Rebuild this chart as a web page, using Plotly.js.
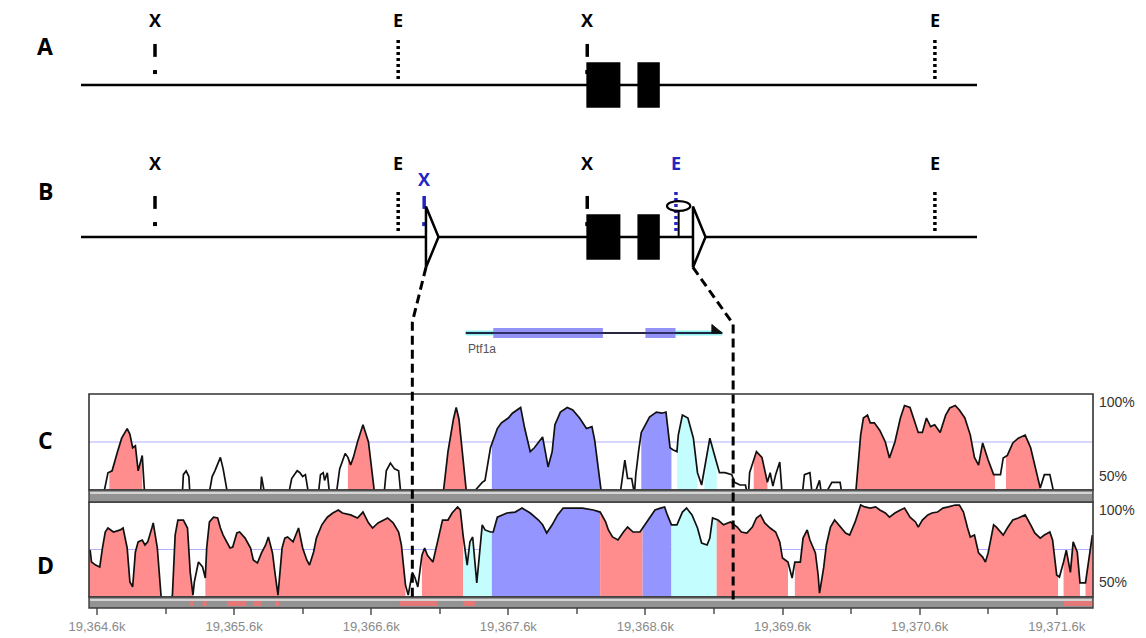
<!DOCTYPE html>
<html><head><meta charset="utf-8">
<script src="https://cdn.plot.ly/plotly-3.0.1.min.js"></script>
<style>html,body{margin:0;padding:0;background:#fff;}#chart{width:1146px;height:638px;}</style>
</head><body><div id="chart"></div>
<script>
// ================= DATA =================
const panelLabels = ['A', 'B', 'C', 'D'];

// Restriction maps (schematic units, 0-100 along the map line)
const mapASiteLabels = ['X', 'E', 'X', 'E'];
const mapASitePos = [8.26, 35.4, 56.5, 95.3];
const mapBSiteLabels = ['X', 'E', 'X', 'X', 'E', 'E'];
const mapBSitePos = [8.26, 35.4, 38.3, 56.5, 66.4, 95.3];
const mapBSiteNew = [false, false, true, false, true, false];
const exonStart = [56.4, 62.1];
const exonEnd = [60.2, 64.6];
const loxPos = [38.5, 68.3];
const frtPos = 66.7;

// Gene annotation (kb)
const geneName = 'Ptf1a';
const geneStart = 19367.29, geneEnd = 19369.16;
const cdsStart = [19367.49, 19368.60];
const cdsEnd = [19368.29, 19368.82];
const insertBounds = [19366.90, 19369.24];

// Repeat annotation marks in lower track bar (kb)
const repeatStart = [19365.28, 19365.37, 19365.55, 19365.74, 19365.90, 19366.81, 19367.27, 19371.65];
const repeatEnd   = [19365.30, 19365.40, 19365.69, 19365.80, 19365.93, 19367.08, 19367.36, 19371.86];

// Axis ticks
const majorTickVals = [19364.6, 19365.6, 19366.6, 19367.6, 19368.6, 19369.6, 19370.6, 19371.6];
const majorTickText = ['19,364.6k', '19,365.6k', '19,366.6k', '19,367.6k', '19,368.6k', '19,369.6k', '19,370.6k', '19,371.6k'];
const minorTickVals = [19365.1, 19366.1, 19367.1, 19368.1, 19369.1, 19370.1, 19371.1];
const pctLabels = ['100%', '50%'];
const pctVals = [100, 50];
const refLine = 75;

// Conservation profile C (position kb, identity %)
const cPos = [19364.55, 19364.64, 19364.68, 19364.71, 19364.75, 19364.78, 19364.82, 19364.84, 19364.86, 19364.88, 19364.90, 19364.93, 19364.95,
  19365.22, 19365.23, 19365.25, 19365.27, 19365.28,
  19365.41, 19365.44, 19365.46, 19365.50, 19365.52, 19365.56,
  19365.79, 19365.80, 19365.83,
  19365.99, 19366.02, 19366.06, 19366.08, 19366.10, 19366.12, 19366.15,
  19366.21, 19366.23, 19366.25, 19366.26, 19366.28, 19366.30,
  19366.34, 19366.37, 19366.41, 19366.43, 19366.45, 19366.47, 19366.50, 19366.54, 19366.58, 19366.60, 19366.63,
  19366.69, 19366.71, 19366.74, 19366.77, 19366.80, 19366.82,
  19367.12, 19367.16, 19367.20, 19367.22, 19367.24, 19367.27, 19367.30,
  19367.41, 19367.43, 19367.47, 19367.52, 19367.55, 19367.60, 19367.63, 19367.69, 19367.72, 19367.76, 19367.79, 19367.82, 19367.85, 19367.87, 19367.89, 19367.92, 19367.94, 19367.98, 19368.03, 19368.07, 19368.12, 19368.17, 19368.21, 19368.23, 19368.25, 19368.28,
  19368.41, 19368.45, 19368.47, 19368.50, 19368.52, 19368.53, 19368.55, 19368.57, 19368.63, 19368.68, 19368.72, 19368.75, 19368.78, 19368.80, 19368.83,
  19368.84, 19368.87, 19368.91, 19368.95, 19368.98, 19369.01, 19369.03, 19369.07, 19369.11, 19369.14, 19369.18, 19369.23, 19369.25, 19369.29, 19369.33, 19369.35,
  19369.36, 19369.41, 19369.45, 19369.49, 19369.51, 19369.53,
  19369.55, 19369.58, 19369.60, 19369.74, 19369.76, 19369.80, 19369.82, 19369.87, 19369.89, 19369.96, 19370.02, 19370.04,
  19370.13, 19370.17, 19370.19, 19370.22, 19370.24, 19370.27, 19370.31, 19370.35, 19370.38, 19370.42, 19370.46, 19370.49, 19370.53, 19370.55, 19370.59, 19370.62, 19370.65, 19370.68, 19370.71, 19370.75, 19370.79, 19370.82, 19370.86, 19370.89, 19370.93, 19370.97, 19371.00, 19371.03, 19371.06, 19371.10, 19371.14, 19371.19, 19371.21, 19371.24, 19371.28, 19371.32, 19371.37, 19371.41, 19371.44, 19371.48, 19371.51, 19371.55, 19371.59, 19371.86];
const cPct = [45, 45, 59, 60, 70, 77, 82, 79, 72, 73, 60, 68, 45,
  45, 58, 60, 57, 45,
  45, 57, 60, 67, 61, 45,
  45, 57, 45,
  45, 56, 60, 59, 57, 58, 45,
  45, 58, 59, 55, 59, 45,
  45, 61, 69, 67, 63, 67, 75, 84, 75, 63, 45,
  45, 60, 64, 61, 60, 45,
  45, 70, 87, 93, 87, 65, 45,
  54, 55, 72, 82, 85, 87.5, 90, 93, 82, 70, 72, 74.5, 77.6, 70, 62, 70, 84, 90.6, 93, 91.7, 87.5, 82, 83, 76, 64.6, 48,
  45, 65.6, 56, 56, 48, 58, 70, 80, 88, 90.6, 90, 90.6, 72, 71, 70,
  78.6, 89, 87.5, 77, 59, 52.6, 61.5, 77, 66.7, 59, 59, 58, 54, 52.6, 52.6, 45,
  59, 70, 67, 54, 59, 52,
  58, 64.6, 45, 45, 58, 59, 45, 55, 45, 54, 54, 45,
  45, 78.6, 87.5, 89, 85, 85, 81, 75, 66.7, 75, 87.5, 94, 93, 89, 80, 80, 87.5, 83, 84, 80, 89, 92.7, 94, 91.7, 87.5, 78.6, 67, 63, 74.5, 65.6, 58, 58, 66.7, 68, 74.5, 77, 78.6, 72, 63, 51, 58, 58, 45, 45];
const cRegionStart = [19364.69, 19366.43, 19367.12, 19367.48, 19368.57, 19368.83, 19369.03, 19369.39, 19370.13, 19371.23];
const cRegionEnd   = [19364.93, 19366.63, 19367.30, 19368.28, 19368.79, 19368.98, 19369.12, 19369.49, 19371.15, 19371.48];
const cRegionType  = ['cns', 'cns', 'cns', 'exon', 'exon', 'utr', 'utr', 'cns', 'cns', 'cns'];

// Conservation profile D
const dPos = [19364.55, 19364.56, 19364.59, 19364.62, 19364.64, 19364.66, 19364.68, 19364.72, 19364.77, 19364.79,
  19364.82, 19364.84, 19364.86, 19364.88, 19364.90, 19364.93, 19364.95, 19364.97, 19365.00, 19365.01,
  19365.04, 19365.06, 19365.07, 19365.13, 19365.15, 19365.17, 19365.19, 19365.23, 19365.26, 19365.28,
  19365.30, 19365.31, 19365.34, 19365.37, 19365.39, 19365.40, 19365.42, 19365.45, 19365.48, 19365.50,
  19365.52, 19365.57, 19365.59, 19365.62, 19365.64, 19365.68, 19365.72, 19365.74, 19365.77, 19365.80,
  19365.83, 19365.85, 19365.88, 19365.90, 19365.92, 19365.95, 19365.97, 19365.99, 19366.03, 19366.07,
  19366.10, 19366.13, 19366.15, 19366.18, 19366.20, 19366.24, 19366.28, 19366.32, 19366.36, 19366.39,
  19366.45, 19366.50, 19366.54, 19366.58, 19366.61, 19366.65, 19366.69, 19366.72, 19366.76, 19366.80,
  19366.82, 19366.85, 19366.87, 19366.90, 19366.92, 19366.94, 19366.97, 19366.99, 19367.01, 19367.05,
  19367.09, 19367.12, 19367.16, 19367.19, 19367.23, 19367.25, 19367.27, 19367.30, 19367.32, 19367.34,
  19367.37, 19367.39, 19367.41, 19367.43, 19367.47, 19367.49, 19367.52, 19367.59, 19367.65, 19367.70,
  19367.76, 19367.82, 19367.85, 19367.88, 19367.92, 19367.96, 19368.00, 19368.07, 19368.14, 19368.22,
  19368.27, 19368.31, 19368.33, 19368.36, 19368.40, 19368.44, 19368.47, 19368.51, 19368.56, 19368.58,
  19368.63, 19368.67, 19368.71, 19368.74, 19368.76, 19368.79, 19368.83, 19368.87, 19368.90, 19368.94,
  19368.98, 19369.01, 19369.05, 19369.07, 19369.09, 19369.13, 19369.17, 19369.22, 19369.27, 19369.30,
  19369.34, 19369.38, 19369.41, 19369.44, 19369.47, 19369.51, 19369.55, 19369.58, 19369.60, 19369.64,
  19369.67, 19369.69, 19369.73, 19369.75, 19369.78, 19369.80, 19369.84, 19369.86, 19369.87, 19369.90,
  19369.92, 19369.95, 19369.98, 19370.02, 19370.06, 19370.09, 19370.13, 19370.17, 19370.20, 19370.24,
  19370.28, 19370.31, 19370.35, 19370.38, 19370.42, 19370.46, 19370.49, 19370.53, 19370.57, 19370.59,
  19370.62, 19370.66, 19370.69, 19370.73, 19370.77, 19370.81, 19370.86, 19370.89, 19370.92, 19370.95,
  19370.97, 19371.00, 19371.03, 19371.06, 19371.08, 19371.10, 19371.14, 19371.16, 19371.19, 19371.21,
  19371.24, 19371.28, 19371.32, 19371.37, 19371.41, 19371.44, 19371.48, 19371.51, 19371.55, 19371.57,
  19371.60, 19371.62, 19371.65, 19371.67, 19371.70, 19371.72, 19371.75, 19371.77, 19371.81, 19371.83,
  19371.86];
const dPct = [74.7, 68.4, 66.8, 65.8, 75.8, 84.2, 86.3, 84.2, 85.3, 86.3,
  75.8, 57.9, 55.3, 73.7, 79, 80, 77.4, 79, 86.3, 89,
  75.8, 60, 48, 47, 51, 82.6, 90.5, 90.5, 86.3, 63,
  51, 58, 68.4, 65.8, 60, 75.8, 89.5, 92, 91.6, 86.3,
  82.6, 75.8, 76.3, 83.7, 84.2, 81, 75.8, 69.5, 67.9, 73.2,
  77.4, 81.6, 73.2, 61.6, 51, 75.8, 81, 81.6, 79, 86.3,
  75.8, 69.5, 66.8, 73.7, 81, 88, 92, 94.2, 95.8, 94.2,
  93.2, 91.6, 94.7, 89, 86.3, 89, 90.5, 91.6, 89, 84.2,
  77.4, 56.3, 51, 63, 60, 55.3, 72, 75.8, 72, 68.4,
  81, 90.5, 90.5, 94.2, 97.4, 95.8, 82.6, 66.8, 79, 81.6,
  57.4, 73.7, 88, 85.3, 84.2, 84.2, 92, 94.2, 94.7, 96.8,
  94.2, 90.5, 88, 83.7, 88, 93.2, 96.8, 96.8, 96.8, 95.8,
  94.7, 89.5, 85.3, 81.6, 80, 84.2, 86.8, 84.2, 84.2, 86.3,
  91.6, 95.8, 96.8, 97.4, 93.2, 88, 88, 94.7, 96.8, 93.2,
  86.3, 78.4, 77.4, 81, 91.6, 90.5, 88, 89.5, 86.8, 84.2,
  83.7, 86.8, 91.6, 93.2, 89, 86.3, 84.2, 79, 70.5, 68.4,
  60, 68.4, 68.4, 81, 85.3, 80, 73.2, 61.6, 52, 65.3,
  77.4, 86.8, 90.5, 86.8, 83.7, 82.6, 89.5, 98.4, 97.4, 96.8,
  97.4, 95.8, 94.2, 92, 94.2, 95.8, 96.8, 92, 89.5, 86.8,
  90.5, 93.2, 94.2, 94.7, 96.8, 97.4, 98.4, 98.4, 94.7, 86.3,
  81.6, 82.6, 73.2, 71, 68.4, 73.2, 88, 86.8, 84.2, 82.6,
  86.3, 90.5, 91.6, 93.2, 88, 83.7, 81, 82.6, 84.2, 80,
  61.6, 60.5, 68.4, 74.7, 63, 79, 73.7, 57.4, 57.4, 66.8,
  82.6];
const dRegionStart = [19364.54, 19365.15, 19365.39, 19366.97, 19367.27, 19367.48, 19368.27, 19368.58, 19368.79, 19369.12, 19369.69, 19371.65, 19371.81];
const dRegionEnd   = [19365.07, 19365.30, 19366.85, 19367.27, 19367.48, 19368.27, 19368.58, 19368.79, 19369.12, 19369.64, 19371.61, 19371.77, 19371.87];
const dRegionType  = ['cns', 'cns', 'cns', 'cns', 'utr', 'exon', 'cns', 'exon', 'utr', 'cns', 'cns', 'cns', 'cns'];

// ================= LAYOUT HELPERS =================
const W = 1146, H = 638;
const pX = p => p / W, pY = p => 1 - p / H;
const G_DOM = [pX(89), pX(1093)], G_RANGE = [19364.5416, 19371.8648];
const S_RANGE_X = [-9.04, 118.86], S_DOM_Y = [pY(360), 1], S_RANGE_Y = [-0.809, 1.559];
const GENE_DOM = [pY(358), pY(308)];
const toPaperG = kb => G_DOM[0] + (kb - G_RANGE[0]) / (G_RANGE[1] - G_RANGE[0]) * (G_DOM[1] - G_DOM[0]);
const toPaperSX = u => (u - S_RANGE_X[0]) / (S_RANGE_X[1] - S_RANGE_X[0]);
const toPaperSY = v => S_DOM_Y[0] + (v - S_RANGE_Y[0]) / (S_RANGE_Y[1] - S_RANGE_Y[0]) * (S_DOM_Y[1] - S_DOM_Y[0]);

const FILL = {cns: '#ff8d8d', exon: '#9595ff', utr: '#c3fdfd'};
const BLUE = '#2424c4';
const BOLD = {family: 'Open Sans, Liberation Sans, Arial, sans-serif', weight: 700};

const traces = [];
const shapes = [];
const annotations = [];

// ---------- schematic maps A / B ----------
const rows = [
  {y: 1, labels: mapASiteLabels, pos: mapASitePos, isNew: mapASiteLabels.map(() => false), lift: 0.43, inserts: false},
  {y: 0, labels: mapBSiteLabels, pos: mapBSitePos, isNew: mapBSiteNew, lift: 0.49, inserts: true}
];
rows.forEach(r => {
  traces.push({type: 'scatter', mode: 'lines', x: [0, 100], y: [r.y, r.y], xaxis: 'x3', yaxis: 'y3',
    line: {color: '#000', width: 2.5}, hoverinfo: 'skip', showlegend: false});
  r.labels.forEach((lab, i) => {
    const u = r.pos[i];
    const col = r.isNew[i] ? BLUE : '#000';
    if (lab === 'X') {
      traces.push({type: 'scatter', mode: 'lines', x: [u, u], y: [r.y + 0.185, r.y + 0.27], xaxis: 'x3', yaxis: 'y3',
        line: {color: col, width: 3.5}, hoverinfo: 'skip', showlegend: false});
      traces.push({type: 'scatter', mode: 'markers', x: [u], y: [r.y + 0.085], xaxis: 'x3', yaxis: 'y3',
        marker: {color: col, size: 4, symbol: 'square'}, hoverinfo: 'skip', showlegend: false});
    } else {
      traces.push({type: 'scatter', mode: 'lines', x: [u, u], y: [r.y + 0.04, r.y + 0.30], xaxis: 'x3', yaxis: 'y3',
        line: {color: col, width: 3.5, dash: '3px,3px'}, hoverinfo: 'skip', showlegend: false});
    }
    const lift = (r.isNew[i] && lab === 'X') ? 0.38 : r.lift;
    annotations.push({x: u, y: r.y + lift, xref: 'x3', yref: 'y3', text: lab, showarrow: false,
      xanchor: 'center', yanchor: 'middle', font: Object.assign({size: 18, color: col}, BOLD)});
  });
  exonStart.forEach((s, i) => shapes.push({type: 'rect', xref: 'x3', yref: 'y3', x0: s, x1: exonEnd[i],
    y0: r.y - 0.15, y1: r.y + 0.15, fillcolor: '#000', line: {width: 0}}));
  if (r.inserts) {
    loxPos.forEach(u => shapes.push({type: 'path', xref: 'x3', yref: 'y3',
      path: `M ${u},${r.y + 0.2} L ${u + 1.4},${r.y} L ${u},${r.y - 0.2} Z`,
      fillcolor: '#fff', line: {color: '#000', width: 2.5}}));
    shapes.push({type: 'line', xref: 'x3', yref: 'y3', x0: frtPos, x1: frtPos, y0: r.y, y1: r.y + 0.172,
      line: {color: '#000', width: 2}});
    shapes.push({type: 'circle', xref: 'x3', yref: 'y3', x0: frtPos - 1.3, x1: frtPos + 1.3,
      y0: r.y + 0.172, y1: r.y + 0.236, line: {color: '#000', width: 2.2}});
  }
});
// panel letters
const letterY = [46, 191, 440, 565];
panelLabels.forEach((t, i) => annotations.push({x: pX(45), y: pY(letterY[i]), xref: 'paper', yref: 'paper',
  xanchor: 'center', yanchor: 'middle', text: t, showarrow: false, font: Object.assign({size: 23, color: '#000'}, BOLD)}));

// ---------- gene track ----------
traces.push({type: 'scatter', mode: 'lines', x: [geneStart, geneEnd], y: [0, 0], xaxis: 'x4', yaxis: 'y4',
  line: {color: '#111', width: 1.6}, hoverinfo: 'skip', showlegend: false});
[[geneStart, cdsStart[0]], [cdsEnd[cdsEnd.length - 1], geneEnd]].forEach(([a, b]) =>
  shapes.push({type: 'rect', xref: 'x4', yref: 'y4', x0: a, x1: b, y0: -0.1, y1: 0.1,
    fillcolor: '#8eefef', line: {width: 0}, layer: 'below'}));
cdsStart.forEach((s, i) => shapes.push({type: 'rect', xref: 'x4', yref: 'y4', x0: s, x1: cdsEnd[i],
  y0: -0.2, y1: 0.2, fillcolor: 'rgba(120,120,245,0.8)', line: {width: 0}}));
shapes.push({type: 'line', xref: 'x4', yref: 'y4', x0: geneStart, x1: geneEnd, y0: 0, y1: 0,
  line: {color: '#1a1a40', width: 1.4}});
shapes.push({type: 'path', xref: 'x4', yref: 'y4',
  path: `M ${geneEnd - 0.075},0.34 L ${geneEnd},0 L ${geneEnd - 0.075},0 Z`, fillcolor: '#111', line: {color: '#111', width: 1}});
annotations.push({x: geneStart, y: -0.62, xref: 'x4', yref: 'y4', text: geneName, showarrow: false, xanchor: 'left',
  yanchor: 'middle', font: {family: 'Liberation Sans, Arial, sans-serif', size: 12, color: '#555'}});

// ---------- conservation plots ----------
function interp(xs, ys, x) {
  for (let i = 0; i < xs.length - 1; i++) {
    if (x >= xs[i] && x <= xs[i + 1]) {
      const t = (x - xs[i]) / ((xs[i + 1] - xs[i]) || 1);
      return ys[i] + t * (ys[i + 1] - ys[i]);
    }
  }
  return x < xs[0] ? ys[0] : ys[ys.length - 1];
}
function addProfile(xs, ys, starts, ends, kinds, xa, ya) {
  starts.forEach((s, i) => {
    const e = ends[i];
    const fx = [s], fy = [interp(xs, ys, s)];
    xs.forEach((x, j) => { if (x > s && x < e) { fx.push(x); fy.push(ys[j]); } });
    fx.push(e); fy.push(interp(xs, ys, e));
    traces.push({type: 'scatter', mode: 'lines', x: fx, y: fy, xaxis: xa, yaxis: ya, fill: 'tozeroy',
      fillcolor: FILL[kinds[i]], line: {width: 0, color: FILL[kinds[i]]}, hoverinfo: 'skip', showlegend: false});
  });
  traces.push({type: 'scatter', mode: 'lines', x: xs, y: ys, xaxis: xa, yaxis: ya,
    line: {color: '#111', width: 1.7}, hoverinfo: 'skip', showlegend: false});
}
addProfile(cPos, cPct, cRegionStart, cRegionEnd, cRegionType, 'x2', 'y2');
addProfile(dPos, dPct, dRegionStart, dRegionEnd, dRegionType, 'x', 'y');

// reference (75%) lines
[['x2', 'y2'], ['x', 'y']].forEach(([xa, ya]) => shapes.push({type: 'line', xref: xa + ' domain', yref: ya,
  x0: 0, x1: 1, y0: refLine, y1: refLine, line: {color: '#b0b0ff', width: 1.2}, layer: 'below'}));

// frames and track bars
const panelBoxes = [[394, 490], [502, 597]];
panelBoxes.forEach(([t, b]) => shapes.push({type: 'rect', xref: 'paper', yref: 'paper', x0: G_DOM[0], x1: G_DOM[1],
  y0: pY(b), y1: pY(t), line: {color: '#333', width: 1.6}, fillcolor: 'rgba(0,0,0,0)'}));
const bars = [[490, 502], [597, 608]];
bars.forEach(([t, b]) => {
  shapes.push({type: 'rect', xref: 'paper', yref: 'paper', x0: G_DOM[0], x1: G_DOM[1], y0: pY(b), y1: pY(t),
    fillcolor: '#939393', line: {color: '#3c3c3c', width: 1.4}});
  shapes.push({type: 'line', xref: 'paper', yref: 'paper', x0: G_DOM[0] + 0.001, x1: G_DOM[1] - 0.001,
    y0: pY(t + 3), y1: pY(t + 3), line: {color: '#d4d4d4', width: 2}});
});
repeatStart.forEach((s, i) => shapes.push({type: 'rect', xref: 'x', yref: 'paper', x0: s, x1: repeatEnd[i],
  y0: pY(606), y1: pY(601), fillcolor: 'rgba(255,110,110,0.75)', line: {width: 0}}));

// percent labels
['y2', 'y'].forEach(ya => {
  pctLabels.forEach((t, i) => annotations.push({x: pX(1097), y: pctVals[i], xref: 'paper', yref: ya, text: t,
    showarrow: false, xanchor: 'left', yanchor: pctVals[i] === 100 ? 'top' : 'bottom',
    yshift: pctVals[i] === 100 ? 2 : (ya === 'y' ? 5 : 4),
    font: {family: 'Liberation Sans, Arial, sans-serif', size: 14, color: '#333'}}));
});

// dashed connectors from insertion sites to the zoomed region
const bendPix = [322, 324];
loxPos.forEach((u, i) => {
  const x0 = toPaperSX(u), y0 = toPaperSY(-0.2);
  const xg = toPaperG(insertBounds[i]);
  shapes.push({type: 'path', xref: 'paper', yref: 'paper',
    path: `M ${x0},${y0} L ${xg},${pY(bendPix[i])} L ${xg},${pY(601)}`,
    line: {color: '#000', width: 3, dash: '9px,5px'}});
});

// ================= AXES =================
const hidden = {visible: false, showgrid: false, zeroline: false, fixedrange: true};
const layout = {
  width: W, height: H, margin: {l: 0, r: 0, t: 0, b: 0},
  paper_bgcolor: '#fff', plot_bgcolor: 'rgba(0,0,0,0)', showlegend: false,
  xaxis: {domain: G_DOM, range: G_RANGE, anchor: 'free', position: pY(607), showline: false, showgrid: false,
    zeroline: false, ticks: 'outside', ticklen: 7, tickwidth: 2, tickcolor: '#7c7c7c', tickmode: 'array',
    tickvals: majorTickVals, ticktext: majorTickText, fixedrange: true,
    tickfont: {family: 'Liberation Sans, Arial, sans-serif', size: 13, color: '#8a8a8a'},
    minor: {tickmode: 'array', tickvals: minorTickVals, ticks: 'outside', ticklen: 6, tickwidth: 2, tickcolor: '#7c7c7c', showgrid: false}},
  yaxis: Object.assign({domain: [pY(597), pY(502)], range: [50, 100], anchor: 'x'}, hidden),
  xaxis2: Object.assign({domain: G_DOM, range: G_RANGE, anchor: 'y2'}, hidden),
  yaxis2: Object.assign({domain: [pY(490), pY(394)], range: [50, 100], anchor: 'x2'}, hidden),
  xaxis3: Object.assign({domain: [0, 1], range: S_RANGE_X, anchor: 'y3'}, hidden),
  yaxis3: Object.assign({domain: S_DOM_Y, range: S_RANGE_Y, anchor: 'x3'}, hidden),
  xaxis4: Object.assign({domain: G_DOM, range: G_RANGE, anchor: 'y4'}, hidden),
  yaxis4: Object.assign({domain: GENE_DOM, range: [-1, 1], anchor: 'x4'}, hidden),
  shapes: shapes, annotations: annotations
};
Plotly.newPlot('chart', traces, layout, {staticPlot: true, displayModeBar: false});
</script></body></html>
